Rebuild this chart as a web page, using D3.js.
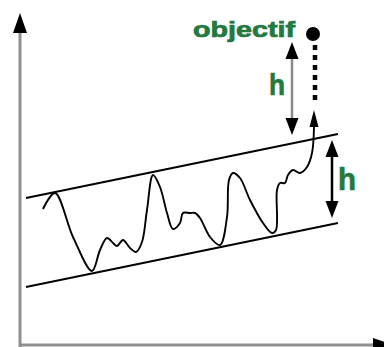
<!DOCTYPE html>
<html><head><meta charset="utf-8">
<script src="https://cdn.jsdelivr.net/npm/d3@7"></script>
<style>body{margin:0;background:#fff}svg{display:block}</style>
</head><body>
<svg id="c" width="384" height="347"></svg>
<script>
// data (time units t, price units v)
const priceT = [23,35,53,72,80,87,93,97,103,110,116,122,127,133,140,147,153,160,163,170,175,180,190,200,207,209,213,220,230,243,252,256,257,260,265,268,273,280,287,292,294];
const priceV = [136,152,108,74,95,107,102,99,105,97,93,103,135,170,158,132,116,122,132,132,132,127,108,100,128,165,172,167,145,122,112,115,155,162,162,170,175,172,178,192,218];
const upperT = [6,318], upperV = [147,211];
const lowerT = [6,318], lowerV = [58,122];
const breakoutTip = [294,235];
const targetT = 295, targetFrom = 240, targetTo = 300;
const targetPoint = [293,311];
const hArrow1 = {t:272, v0:303, v1:210};
const hArrow2 = {t:312, v0:205, v1:127};
const labels = ["objectif","h","h"];

const svg = d3.select("#c");
const x = d3.scaleLinear().domain([0,364]).range([20,384]);
const y = d3.scaleLinear().domain([0,332]).range([345,13]);

function head(xp, tip, base, hw, color){
  svg.append("path").attr("d", `M${xp},${tip}L${xp-hw},${base}L${xp+hw},${base}Z`).attr("fill", color||"#000");
}

// axes
const yAxis = d3.axisLeft(y).tickValues([]).tickSizeOuter(0);
const gy = svg.append("g").attr("transform", `translate(${x(0)},0)`).call(yAxis);
gy.select(".domain").attr("stroke","#8f8f8f").attr("stroke-width",3).attr("d", `M0,${y(0)+2}V${y(312)}`);
head(x(0), y(332), y(312), 7);
const xAxis = d3.axisBottom(x).tickValues([]).tickSizeOuter(0);
const gx = svg.append("g").attr("transform", `translate(0,${y(0)})`).call(xAxis);
gx.select(".domain").attr("stroke","#8f8f8f").attr("stroke-width",3).attr("d", `M${x(0)},0H${x(353)}`);
svg.append("path").attr("d", `M${x(373)},${y(0)}L${x(353)},${y(0)-7}L${x(353)},${y(0)+7}Z`).attr("fill","#000");

// channel lines
const line = d3.line().x(d=>x(d[0])).y(d=>y(d[1]));
[[upperT,upperV],[lowerT,lowerV]].forEach(([T,V])=>{
  svg.append("path").attr("d", line(T.map((t,i)=>[t,V[i]]))).attr("stroke","#000").attr("stroke-width",2).attr("fill","none");
});

// price
const pline = d3.line().x(d=>x(d[0])).y(d=>y(d[1])).curve(d3.curveCatmullRom.alpha(0.5));
svg.append("path").attr("d", pline(priceT.map((t,i)=>[t,priceV[i]]))).attr("stroke","#000").attr("stroke-width",1.9).attr("fill","none");
head(x(breakoutTip[0]), y(breakoutTip[1]), y(breakoutTip[1])+17, 4.5);

// target dotted line and dot
svg.append("line").attr("x1",x(targetT)).attr("x2",x(targetT)).attr("y1",y(targetTo)).attr("y2",y(targetFrom))
  .attr("stroke","#000").attr("stroke-width",4.5).attr("stroke-dasharray","5,5");
svg.append("circle").attr("cx",x(targetPoint[0])).attr("cy",y(targetPoint[1])).attr("r",7).attr("fill","#000");

// h arrows
function dbl(a, color){
  const xp = x(a.t), top = y(a.v0), bot = y(a.v1);
  svg.append("line").attr("x1",xp).attr("x2",xp).attr("y1",top+10).attr("y2",bot-10).attr("stroke",color).attr("stroke-width",2.5);
  head(xp, top, top+17, 6.5);
  head(xp, bot, bot-17, 6.5);
}
dbl(hArrow1, "#8a8a8a");
dbl(hArrow2, "#000");

// labels
const green = "#23793f";
function label(txt, xp, yp, fs, len){
  svg.append("text").attr("x",xp).attr("y",yp).attr("fill",green).attr("stroke",green).attr("stroke-width",0.7)
    .attr("font-family","Liberation Sans, Arial, sans-serif").attr("font-weight","bold").attr("font-size",fs)
    .attr("textLength",len).attr("lengthAdjust","spacingAndGlyphs").text(txt);
}
label(labels[0], 193, 37, 21.5, 102);
label(labels[1], 269, 95, 30, 16);
label(labels[2], 338, 190, 31, 18);
</script>
</body></html>
